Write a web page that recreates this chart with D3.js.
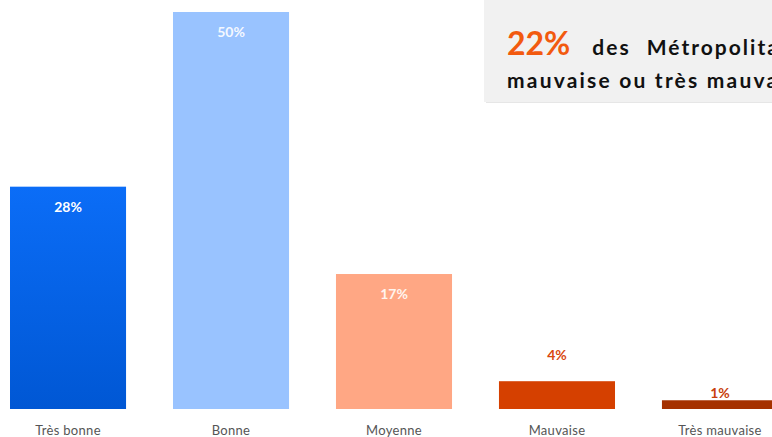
<!DOCTYPE html>
<html>
<head>
<meta charset="utf-8">
<script src="https://cdn.jsdelivr.net/npm/d3@7"></script>
<style>
    html, body { margin: 0; padding: 0; background: #fff; overflow: hidden; }
    svg { display: block; }
</style>
</head>
<body>
<div id="chart"></div>
<script>
const categories = ["Très bonne", "Bonne", "Moyenne", "Mauvaise", "Très mauvaise"];
const values = [28, 50, 17, 3.5, 1.1];
const valueLabels = ["28%", "50%", "17%", "4%", "1%"];
const barColors = ["url(#blueGrad)", "#99c3ff", "#ffa784", "#d54000", "#a53100"];
const labelInside = [true, true, true, false, false];
const labelColors = ["#ffffff", "#f4f8ff", "#fff4ee", "#d9480f", "#c8400c"];

const width = 772, height = 437;
const baseline = 409;

const svg = d3.select("#chart")
    .append("svg")
    .attr("width", width)
    .attr("height", height);

// gradient for the first bar
const defs = svg.append("defs");
const grad = defs.append("linearGradient")
    .attr("id", "blueGrad")
    .attr("x1", 0).attr("y1", 0).attr("x2", 0).attr("y2", 1);
grad.append("stop").attr("offset", "0%").attr("stop-color", "#0b6df7");
grad.append("stop").attr("offset", "100%").attr("stop-color", "#0057d4");

const x = d3.scaleBand()
    .domain(categories)
    .range([10, 778])
    .paddingInner(0.288)
    .paddingOuter(0);

const y = d3.scaleLinear()
    .domain([0, 50])
    .range([baseline, 12]);

// Bars
svg.selectAll("rect.bar")
    .data(categories)
    .enter().append("rect")
    .attr("class", "bar")
    .attr("x", d => x(d))
    .attr("y", (d, i) => y(values[i]))
    .attr("width", x.bandwidth())
    .attr("height", (d, i) => baseline - y(values[i]))
    .attr("fill", (d, i) => barColors[i]);

// Value labels
svg.selectAll("text.value")
    .data(categories)
    .enter().append("text")
    .attr("class", "value")
    .attr("x", d => x(d) + x.bandwidth() / 2)
    .attr("y", (d, i) => labelInside[i] ? y(values[i]) + 25 : y(values[i]) - (i === 4 ? 2 : 21))
    .attr("text-anchor", "middle")
    .attr("font-family", "Lato, 'Open Sans', sans-serif")
    .attr("font-weight", "bold")
    .attr("font-size", "14px")
    .attr("fill", (d, i) => labelColors[i])
    .text((d, i) => valueLabels[i]);

// Category labels
svg.selectAll("text.cat")
    .data(categories)
    .enter().append("text")
    .attr("class", "cat")
    .attr("x", d => x(d) + x.bandwidth() / 2)
    .attr("y", 435)
    .attr("text-anchor", "middle")
    .attr("font-family", "Lato, 'Open Sans', sans-serif")
    .attr("font-size", "13px")
    .attr("letter-spacing", "0.3px")
    .attr("fill", "#555")
    .text(d => d);

// Callout box
const box = svg.append("g");
box.append("rect")
    .attr("x", 486).attr("y", -2)
    .attr("width", 300).attr("height", 105)
    .attr("fill", "#e6e6e6");
box.append("rect")
    .attr("x", 484).attr("y", -2)
    .attr("width", 300).attr("height", 104)
    .attr("fill", "#f1f1f1");

const line1 = box.append("text")
    .attr("x", 507).attr("y", 55)
    .attr("font-family", "Lato, 'Open Sans', sans-serif")
    .attr("font-weight", "bold");
line1.append("tspan")
    .attr("font-size", "32px")
    .attr("fill", "#f25a0f")
    .text("22%");
line1.append("tspan")
    .attr("dx", 22)
    .attr("font-size", "21px")
    .attr("fill", "#111")
    .attr("letter-spacing", "2px")
    .attr("word-spacing", "9px")
    .text("des Métropolitains jugent leur santé");

box.append("text")
    .attr("x", 507).attr("y", 88)
    .attr("font-family", "Lato, 'Open Sans', sans-serif")
    .attr("font-weight", "bold")
    .attr("font-size", "21px")
    .attr("letter-spacing", "2.2px")
    .attr("fill", "#111")
    .text("mauvaise ou très mauvaise");
</script>
</body>
</html>
